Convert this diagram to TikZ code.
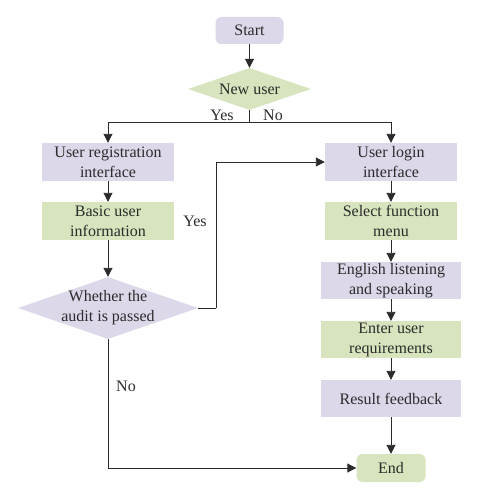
\documentclass[tikz,border=0pt]{standalone}
\usepackage{amsmath}
\usepackage{fontspec}
\setmainfont{Liberation Serif}
\usetikzlibrary{shapes,shapes.geometric}
\usetikzlibrary{arrows.meta, positioning}
\definecolor{lilac}{HTML}{DCD7E9}
\definecolor{sage}{HTML}{D7E4BE}
\definecolor{ink}{HTML}{2B2B2B}

\begin{document}
\begin{tikzpicture}[x=1pt, y=-1pt,
  every node/.style={font=\fontsize{16}{20}\selectfont, text=ink, align=center},
  box/.style={rectangle, inner sep=0pt, minimum width=132pt, minimum height=38pt},
  widebox/.style={box, minimum width=140pt, minimum height=37pt},
  term/.style={rectangle, rounded corners=6pt, inner sep=0pt, minimum width=68pt, minimum height=27pt},
  choice/.style={diamond, aspect=2.9, inner sep=-6pt},
  flow/.style={draw=ink, line width=0.9pt, -{Triangle[length=9pt, width=9pt]}},
  wire/.style={draw=ink, line width=0.9pt}]
  \useasboundingbox (0,0) rectangle (478,500);

  \node[term, fill=lilac] (start) at (249.5,30.5) {Start};
  \node[choice, fill=sage, minimum width=123pt, minimum height=42pt] (newuser) at (249.5,89) {New user};
  \coordinate (split) at (249.5,122);

  \node[box, fill=lilac] (reg) at (108,162) {User registration\\interface};
  \node[box, fill=sage] (basic) at (108,221) {Basic user\\information};
  \node[choice, fill=lilac, minimum width=180pt, minimum height=62pt] (audit) at (108,308) {Whether the\\audit is passed};
  \coordinate (bend) at (216,308);

  \node[box, fill=lilac] (login) at (391,162) {User login\\interface};
  \node[box, fill=sage] (menu) at (391,221) {Select function\\menu};
  \node[widebox, fill=lilac] (listen) at (391,280.5) {English listening\\and speaking};
  \node[widebox, fill=sage] (needs) at (391,339.5) {Enter user\\requirements};
  \node[widebox, fill=lilac] (result) at (391,398.5) {Result feedback};
  \node[term, fill=sage, minimum width=69pt, minimum height=28pt] (end) at (391,468) {End};

  % connectors
  \draw[flow] (start) -- (newuser);
  \draw[wire] (newuser.south) -- (split);
  \draw[flow] (split) -| (reg.north);
  \draw[flow] (split) -| (login.north);
  \draw[flow] (reg) -- (basic);
  \draw[flow] (basic) -- (audit.north);
  \draw[wire] (audit.east) -- (bend);
  \draw[flow] (bend) |- (login.west);
  \draw[flow] (audit.south) |- (end.west);
  \draw[flow] (login) -- (menu);
  \draw[flow] (menu) -- (listen);
  \draw[flow] (listen) -- (needs);
  \draw[flow] (needs) -- (result);
  \draw[flow] (result) -- (end);

  % labels
  \node (yes1) at (222,115) {Yes};
  \node (no1) at (273,115) {No};
  \node (yes2) at (195,221) {Yes};
  \node (no2) at (126,386) {No};
\end{tikzpicture}
\end{document}
